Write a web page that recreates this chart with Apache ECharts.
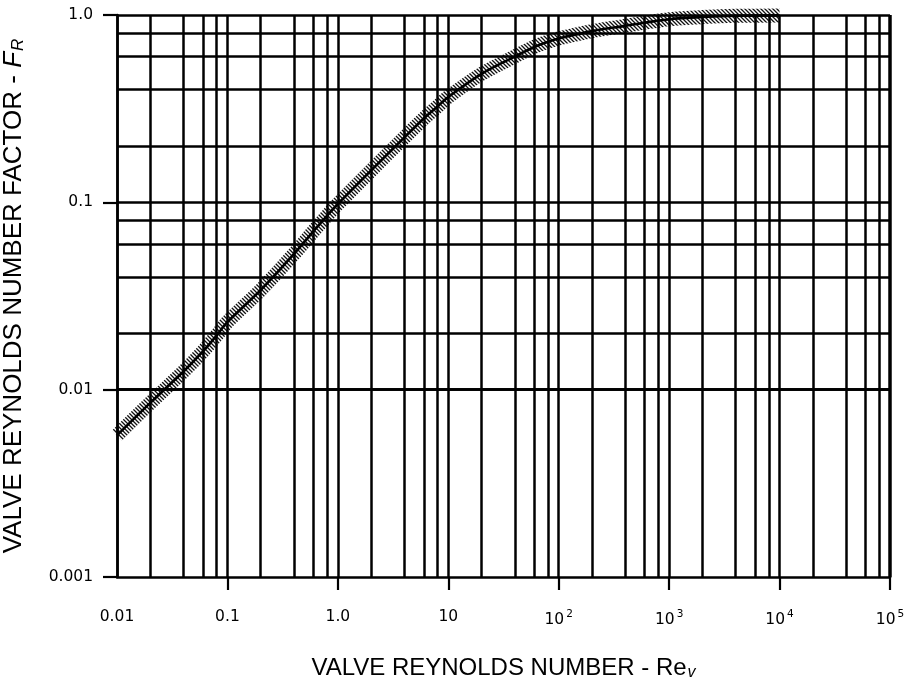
<!DOCTYPE html>
<html>
<head>
<meta charset="utf-8">
<script src="https://cdn.jsdelivr.net/npm/echarts@6/dist/echarts.min.js"></script>
<style>
html,body{margin:0;padding:0;background:#fff;}
#chart{width:918px;height:687px;}
</style>
</head>
<body>
<div id="chart"></div>
<script>
// Valve Reynolds number (x) and factor F_R (y)
const reynolds = [0.01, 0.02, 0.04, 0.06, 0.08, 0.1, 0.2, 0.4, 0.6, 0.8, 1, 2, 4, 6, 8, 10, 20, 40, 60, 80, 100, 200, 400, 600, 1000, 2000, 4000, 10000];
const factorFR = [0.0057, 0.0085, 0.0125, 0.016, 0.0195, 0.023, 0.034, 0.053, 0.07, 0.085, 0.098, 0.148, 0.222, 0.28, 0.325, 0.365, 0.485, 0.60, 0.675, 0.72, 0.75, 0.82, 0.875, 0.91, 0.95, 0.975, 0.99, 0.995];

// Tick labels
const xTickLabels = ['0.01', '0.1', '1.0', '10', '10{sup|2}', '10{sup|3}', '10{sup|4}', '10{sup|5}'];
const yTickLabels = ['0.001', '0.01', '0.1', '1.0'];

// Grid line values
const xDecades = [0.01, 0.1, 1, 10, 100, 1000, 10000, 100000];
const yDecades = [0.001, 0.01, 0.1, 1];
const minorMultipliers = [2, 4, 6, 8];

const xGrid = [];
xDecades.forEach((d, i) => { xGrid.push(d); if (i < xDecades.length - 1) minorMultipliers.forEach(m => xGrid.push(d * m)); });
const yGrid = [];
yDecades.forEach((d, i) => { yGrid.push(d); if (i < yDecades.length - 1) minorMultipliers.forEach(m => yGrid.push(d * m)); });

const curve = reynolds.map((x, i) => [x, factorFR[i]]);

// hatch pattern for the tolerance band
const pc = document.createElement('canvas');
pc.width = 4; pc.height = 4;
const g = pc.getContext('2d');
g.strokeStyle = '#111';
g.lineWidth = 1.3;
g.beginPath();
g.moveTo(0, 0); g.lineTo(4, 4);
g.moveTo(-2, 2); g.lineTo(2, 6);
g.moveTo(2, -2); g.lineTo(6, 2);
g.stroke();

const FONT = "'Liberation Sans', Arial, Helvetica, sans-serif";
const TICKFONT = "'DejaVu Sans', 'Liberation Sans', Arial, sans-serif";

const gridMarks = [];
xGrid.forEach(v => gridMarks.push({ xAxis: v, lineStyle: { width: v === 100000 ? 3.5 : 2.5 } }));
yGrid.forEach(v => gridMarks.push({ yAxis: v, lineStyle: { width: 2.5 } }));

const chart = echarts.init(document.getElementById('chart'), null, { renderer: 'canvas' });
chart.setOption({
  animation: false,
  backgroundColor: '#fff',
  grid: { left: 117, right: 28, top: 15, bottom: 110, containLabel: false, outerBoundsMode: 'none' },
  xAxis: {
    type: 'log', logBase: 10, min: 0.01, max: 100000, splitNumber: 7,
    axisLine: { show: true, lineStyle: { color: '#000', width: 2.5 } },
    axisTick: { show: true, inside: false, length: 13, lineStyle: { color: '#000', width: 2.2 },
      customValues: xDecades.slice(1) },
    splitLine: { show: false },
    minorTick: { show: false },
    axisLabel: {
      margin: 32, color: '#000', fontFamily: TICKFONT, fontSize: 15.5,
      formatter: v => xTickLabels[Math.round(Math.log10(v)) + 2],
      rich: { sup: { fontSize: 10.5, fontFamily: TICKFONT, color: '#000', verticalAlign: 'top', padding: [0, 0, 10, 2] } }
    },
    name: 'VALVE REYNOLDS NUMBER - Re{sub|v}',
    nameLocation: 'middle', nameGap: 78,
    nameTextStyle: {
      color: '#000', fontFamily: FONT, fontSize: 24,
      rich: { sub: { fontSize: 16, fontStyle: 'italic', fontFamily: FONT, color: '#000', padding: [10, 0, 0, 1] } }
    }
  },
  yAxis: {
    type: 'log', logBase: 10, min: 0.001, max: 1, splitNumber: 3,
    axisLine: { show: true, lineStyle: { color: '#000', width: 2.5 } },
    axisTick: { show: true, inside: false, length: 14, lineStyle: { color: '#000', width: 2.2 } },
    splitLine: { show: false },
    axisLabel: {
      margin: 24, color: '#000', fontFamily: TICKFONT, fontSize: 15.5,
      formatter: v => yTickLabels[Math.round(Math.log10(v)) + 3]
    },
    name: 'VALVE REYNOLDS NUMBER FACTOR - {it|F}{sub|R}',
    nameLocation: 'middle', nameGap: 90, nameRotate: 90,
    nameTextStyle: {
      color: '#000', fontFamily: FONT, fontSize: 26,
      rich: {
        it: { fontSize: 26, fontStyle: 'italic', fontFamily: FONT, color: '#000' },
        sub: { fontSize: 17, fontStyle: 'italic', fontFamily: FONT, color: '#000', padding: [10, 0, 0, 1] }
      }
    }
  },
  series: [
    {
      type: 'line', data: curve, z: 1, showSymbol: false, silent: true,
      lineStyle: { opacity: 0, width: 0 },
      markLine: {
        silent: true, symbol: 'none', animation: false,
        label: { show: false },
        lineStyle: { color: '#000', type: 'solid', width: 2.5 },
        data: gridMarks
      }
    },
    {
      type: 'line', data: curve, z: 3, showSymbol: false, smooth: 0.3, silent: true,
      lineStyle: { width: 14, color: { image: pc, repeat: 'repeat' }, cap: 'butt' }
    },
    {
      type: 'line', data: curve, z: 4, showSymbol: false, smooth: 0.3, silent: true,
      lineStyle: { width: 2.6, color: '#000' }
    }
  ]
});
</script>
</body>
</html>
